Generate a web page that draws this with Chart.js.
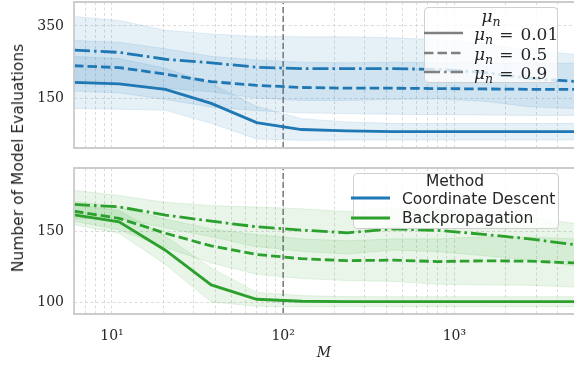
<!DOCTYPE html>
<html>
<head>
<meta charset="utf-8">
<script src="https://cdn.jsdelivr.net/npm/chart.js@4.4.1/dist/chart.umd.min.js"></script>
<style>
  html, body { margin: 0; padding: 0; background: #fff; }
  #wrap { position: relative; width: 574px; height: 365px; overflow: hidden; color: #262626; font-family: 'DejaVu Sans', sans-serif; }
  canvas { position: absolute; left: 0; }
  .abs { position: absolute; white-space: nowrap; }
  .serif { font-family: 'DejaVu Serif', serif; font-size: 17px; }
  .sans { font-size: 15.5px; }
  .box { position: absolute; border: 1px solid #d0d0d0; border-radius: 4px; background: rgba(255,255,255,0.8); box-sizing: border-box; }
  .mu { font-style: italic; }
  .sub { font-style: italic; font-size: 12.5px; position: relative; top: 4px; }
  .eq { padding: 0 7px 0 6px; }
</style>
</head>
<body>
<div id="wrap">
  <canvas id="topCanvas" width="574" height="150" style="top:0"></canvas>
  <canvas id="bottomCanvas" width="574" height="205" style="top:160px"></canvas>

  <div class="abs sans" style="left:18px; top:158px; transform:translate(-50%,-50%) rotate(-90deg);">Number of Model Evaluations</div>

  <!-- mu_n legend (top panel) -->
  <div class="box" style="left:424px; top:7px; width:134px; height:76px;"></div>
  <div class="abs serif" style="left:491px; top:16px; transform:translate(-50%,-50%);"><span class="mu">μ</span><span class="sub">n</span></div>
  <svg class="abs" style="left:424px; top:23px;" width="40" height="56">
    <line x1="0" y1="10" x2="39" y2="10" stroke="#808080" stroke-width="2.6"/>
    <line x1="0" y1="30" x2="39" y2="30" stroke="#808080" stroke-width="2.6" stroke-dasharray="9.5 4"/>
    <line x1="0" y1="49" x2="39" y2="49" stroke="#808080" stroke-width="2.6" stroke-dasharray="16 4 2.6 4"/>
  </svg>
  <div class="abs serif" style="left:474px; top:34px; transform:translateY(-50%);"><span class="mu">μ</span><span class="sub">n</span><span class="eq">=</span>0.01</div>
  <div class="abs serif" style="left:474px; top:54px; transform:translateY(-50%);"><span class="mu">μ</span><span class="sub">n</span><span class="eq">=</span>0.5</div>
  <div class="abs serif" style="left:474px; top:73px; transform:translateY(-50%);"><span class="mu">μ</span><span class="sub">n</span><span class="eq">=</span>0.9</div>

  <!-- method legend (bottom panel) -->
  <div class="box" style="left:353px; top:173px; width:206px; height:56px;"></div>
  <div class="abs sans" style="left:455px; top:181px; transform:translate(-50%,-50%);">Method</div>
  <svg class="abs" style="left:351px; top:190px;" width="40" height="36">
    <line x1="0" y1="8" x2="39" y2="8" stroke="#1f77b4" stroke-width="2.8"/>
    <line x1="0" y1="28" x2="39" y2="28" stroke="#2ca02c" stroke-width="2.8"/>
  </svg>
  <div class="abs sans" style="left:402px; top:199px; transform:translateY(-50%);">Coordinate Descent</div>
  <div class="abs sans" style="left:402px; top:218px; transform:translateY(-50%);">Backpropagation</div>
</div>

<script>
// x values (number of samples M)
const M = [6, 11, 20.5, 38, 70, 128, 236, 435, 800, 1480, 2730, 5000];

// Coordinate Descent, mean and spread per mu_n
const cd_001 = [194, 190, 175, 136, 83, 64, 60, 58, 58, 58, 58, 58];
const cd_001_sd = [72, 70, 58, 55, 45, 30, 25, 23, 23, 23, 23, 23];
const cd_05 = [240, 235, 217, 196, 186, 180, 178, 178, 177, 176, 175, 175];
const cd_05_sd = [70, 70, 70, 70, 70, 70, 70, 72, 72, 72, 72, 72];
const cd_09 = [283, 277, 258, 248, 236, 232, 232, 232, 230, 222, 205, 197];
const cd_09_sd = [93, 88, 80, 80, 85, 88, 88, 85, 82, 80, 78, 75];

// Backpropagation, mean and spread per mu_n
const bp_001 = [162, 157, 137, 112.5, 102.4, 101, 100.8, 100.7, 100.7, 100.7, 100.7, 100.7];
const bp_001_sd = [7, 8, 10, 12, 5, 4, 3.5, 3.5, 3.5, 3.5, 3.5, 3.5];
const bp_05 = [164.5, 159.5, 149, 140, 134, 131, 129.6, 130, 129, 129.5, 129.3, 128];
const bp_05_sd = [7, 8, 10, 12, 14, 14, 14, 15, 16, 17, 17, 17];
const bp_09 = [169.3, 167.6, 161.8, 157.5, 153.5, 151.2, 149.3, 152, 151, 148.2, 145, 141];
const bp_09_sd = [10, 8, 9, 11, 14, 15, 15, 15, 15, 15, 15, 15];

// ticks
const xGridTicks = [6, 7, 8, 9, 10, 20, 30, 40, 50, 60, 70, 80, 90, 100, 200, 300, 400, 500, 600, 700, 800, 900, 1000, 2000, 3000, 4000, 5000];
const xLabelTicks = [10, 100, 1000];
const xLabels = ['10¹', '10²', '10³'];
const topYTicks = [150, 350];
const bottomYTicks = [100, 150];
const markerM = 100;

const xMin = 6, xMax = 5000;
const topYMin = 13, topYMax = 416;
const botYMin = 92, botYMax = 195;

const BLUE = '#1f77b4';
const GREEN = '#2ca02c';
const BLUE_BAND = 'rgba(31, 119, 180, 0.11)';
const GREEN_BAND = 'rgba(44, 160, 44, 0.11)';
const DASH = [9.5, 4];
const DASHDOT = [16, 4, 2.6, 4];

function pts(ys) {
    return ys.map((v, i) => ({ x: M[i], y: v }));
}

function meanLine(ys, color, dash) {
    return { data: pts(ys), borderColor: color, borderWidth: 2.8, borderDash: dash, pointRadius: 0, fill: false, tension: 0 };
}

function band(ys, sd, color) {
    return [
        { data: pts(ys.map((v, i) => v + sd[i])), borderColor: color, borderWidth: 1, backgroundColor: color, pointRadius: 0, fill: '+1' },
        { data: pts(ys.map((v, i) => v - sd[i])), borderColor: color, borderWidth: 1, pointRadius: 0, fill: false }
    ];
}

function markerLine(lo, hi) {
    return { data: [{ x: markerM, y: lo }, { x: markerM, y: hi }], borderColor: 'rgba(90, 90, 90, 0.75)', borderWidth: 1.6, borderDash: [6, 3], pointRadius: 0, fill: false };
}

function xScale(showLabels) {
    return {
        type: 'logarithmic',
        min: xMin,
        max: xMax,
        afterBuildTicks: s => { s.ticks = xGridTicks.map(v => ({ value: v })); },
        afterFit: s => {
            s.height = showLabels ? 51 : 0;
            s.paddingLeft = 0; // no extra room for edge labels
            s.paddingRight = 0;
        },
        ticks: {
            display: showLabels,
            autoSkip: false,
            maxRotation: 0,
            padding: 14,
            color: '#262626',
            font: { family: 'DejaVu Serif', size: 14 },
            callback: v => {
                const k = xLabelTicks.indexOf(v);
                return k >= 0 ? xLabels[k] : '';
            }
        },
        grid: { color: '#d3d3d3', lineWidth: 0.8, drawTicks: false },
        border: { display: false, dash: [3, 2.5] },
        title: {
            display: showLabels,
            text: 'M',
            color: '#262626',
            font: { family: 'DejaVu Serif', size: 14, style: 'italic' },
            padding: { top: 2, bottom: 3 }
        }
    };
}

function yScale(min, max, ticks) {
    return {
        type: 'linear',
        min: min,
        max: max,
        afterBuildTicks: s => { s.ticks = ticks.map(v => ({ value: v })); },
        afterFit: s => {
            s.width = 74;
            s.paddingTop = 0;
            s.paddingBottom = 0;
        },
        ticks: { padding: 10, color: '#262626', font: { family: 'DejaVu Serif', size: 14 } },
        grid: { color: '#d3d3d3', lineWidth: 0.8, drawTicks: false },
        border: { display: false, dash: [3, 2.5] }
    };
}

// light frame around each panel (right side runs off the page)
const framePlugin = {
    id: 'frame',
    afterDatasetsDraw(chart) {
        const a = chart.chartArea;
        const ctx = chart.ctx;
        ctx.save();
        ctx.strokeStyle = '#cccccc';
        ctx.lineWidth = 1.8;
        ctx.beginPath();
        ctx.moveTo(a.right + 3, a.top);
        ctx.lineTo(a.left, a.top);
        ctx.lineTo(a.left, a.bottom);
        ctx.lineTo(a.right + 3, a.bottom);
        ctx.stroke();
        ctx.restore();
    }
};

function panelOptions(yMin, yMax, yTicks, showX, pad) {
    return {
        responsive: false,
        animation: false,
        layout: { padding: pad },
        scales: { x: xScale(showX), y: yScale(yMin, yMax, yTicks) },
        plugins: {
            legend: { display: false },
            tooltip: { enabled: false },
            filler: { drawTime: 'beforeDatasetsDraw' }
        }
    };
}

// Coordinate Descent panel
const topChart = new Chart(document.getElementById('topCanvas').getContext('2d'), {
    type: 'line',
    data: {
        datasets: [
            meanLine(cd_001, BLUE, []),
            meanLine(cd_05, BLUE, DASH),
            meanLine(cd_09, BLUE, DASHDOT),
            markerLine(topYMin, topYMax),
            ...band(cd_001, cd_001_sd, BLUE_BAND),
            ...band(cd_05, cd_05_sd, BLUE_BAND),
            ...band(cd_09, cd_09_sd, BLUE_BAND)
        ]
    },
    options: panelOptions(topYMin, topYMax, topYTicks, false, { top: 2, bottom: 2, left: 0, right: 0 }),
    plugins: [framePlugin]
});

// Backpropagation panel
const bottomChart = new Chart(document.getElementById('bottomCanvas').getContext('2d'), {
    type: 'line',
    data: {
        datasets: [
            meanLine(bp_001, GREEN, []),
            meanLine(bp_05, GREEN, DASH),
            meanLine(bp_09, GREEN, DASHDOT),
            markerLine(botYMin, botYMax),
            ...band(bp_001, bp_001_sd, GREEN_BAND),
            ...band(bp_05, bp_05_sd, GREEN_BAND),
            ...band(bp_09, bp_09_sd, GREEN_BAND)
        ]
    },
    options: panelOptions(botYMin, botYMax, bottomYTicks, true, { top: 8, bottom: 0, left: 0, right: 0 }),
    plugins: [framePlugin]
});
</script>
</body>
</html>
